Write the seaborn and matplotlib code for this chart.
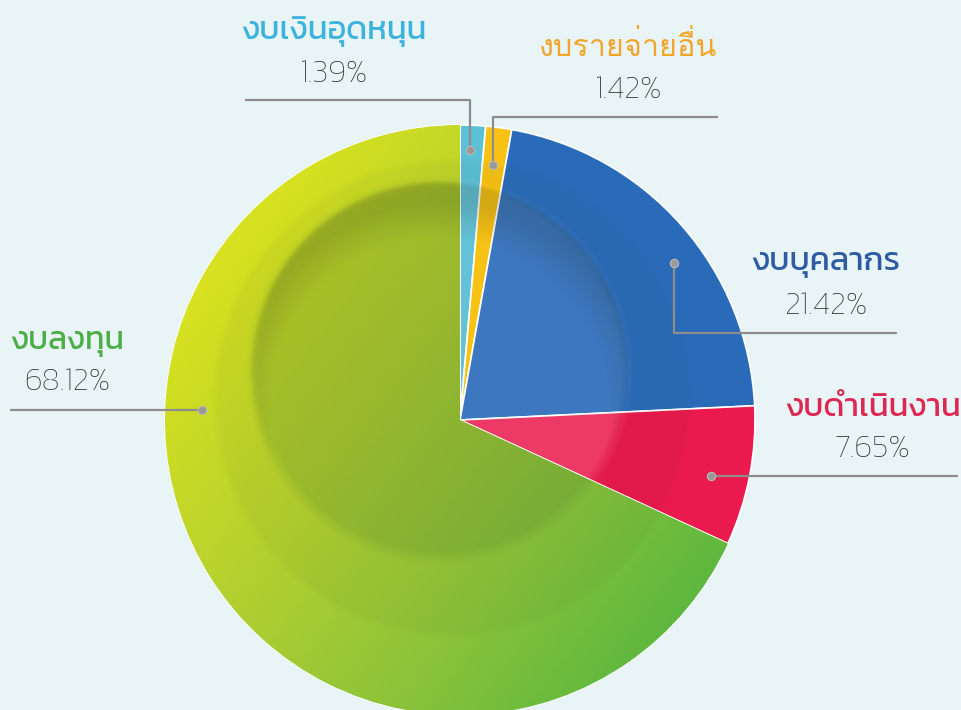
import numpy as np
import matplotlib
matplotlib.use("Agg")
import matplotlib.pyplot as plt
from matplotlib.colors import LinearSegmentedColormap
from matplotlib.patches import Circle
import seaborn as sns

# data (clockwise from 12 o'clock)
labels = ['งบเงินอุดหนุน', 'งบรายจ่ายอื่น', 'งบบุคลากร', 'งบดำเนินงาน', 'งบลงทุน']
shares = [1.39, 1.42, 21.42, 7.65, 68.12]
wedge_colors = ['#5cc0d6', '#f7c214', '#2a6bb9', '#ea1a4e', '#a6cc34']
label_colors = ['#3cb3dc', '#f1a52a', '#2e5ba3', '#dc2852', '#4dae47']
# tint of the inner "plate" per slice (rgb, alpha)
inner_tint = [((1, 1, 1), 0.05), ((1, 1, 1), 0.0), ((1, 1, 1), 0.09),
              ((1, 1, 1), 0.14), ((0.28, 0.44, 0.18), 0.25)]

sns.set_theme(style='white')
plt.rcParams['font.family'] = ['Kanit', 'Loma', 'DejaVu Sans']

BG = '#e8f4f6'
W, H = 962, 710
fig = plt.figure(figsize=(W / 100, H / 100), dpi=100, facecolor=BG)
ax = fig.add_axes([0, 0, 1, 1])
ax.set_facecolor(BG)

cx, cy, R = 460, H - 420, 295
wedges, _ = ax.pie(shares, colors=wedge_colors, startangle=90, counterclock=False,
                   center=(cx, cy), radius=R,
                   wedgeprops=dict(edgecolor='white', linewidth=1.2))
ax.set_xlim(0, W)
ax.set_ylim(0, H)
ax.set_aspect('equal')
ax.axis('off')
for w in wedges:
    w.set_zorder(1)

n = 600
gx, gy = np.meshgrid(np.linspace(cx - R, cx + R, n), np.linspace(cy - R, cy + R, n))
ux, uy = (gx - cx) / R, (gy - cy) / R
ext = [cx - R, cx + R, cy - R, cy + R]

# colour gradient of the big green slice
green_map = LinearSegmentedColormap.from_list('g', ['#d8e21f', '#b6d12e', '#8cc33a', '#56b63f'])
t = np.clip((ux * 0.8 - uy * 0.6 + 1.0) / 2.1, 0, 1)
im = ax.imshow(t, extent=ext, origin='lower', cmap=green_map, vmin=0, vmax=1,
               interpolation='bilinear', zorder=2)
im.set_clip_path(wedges[4])


def smooth(d, w):
    return np.clip(0.5 + d / w, 0, 1)


# plate-like shading: inner disc, shadow crescent at its upper rim, faint middle step
ix, iy, ir = 440, H - 370, 188
d_in = ir - np.hypot(gx - ix, gy - iy)
d_low = ir - np.hypot(gx - ix, gy - (iy - 38))
inner = smooth(d_in, 14)
cres = smooth(d_in, 5) * (1 - smooth(d_low, 36))
mx, my, mr = 452, H - 398, 238
mid = smooth(mr - np.hypot(gx - mx, gy - my), 8) * (1 - inner)

for w, (rgb, a) in zip(wedges, inner_tint):
    if a == 0:
        continue
    tint = np.zeros((n, n, 4))
    tint[..., :3] = rgb
    tint[..., 3] = a * inner
    im = ax.imshow(tint, extent=ext, origin='lower', interpolation='bilinear', zorder=3)
    im.set_clip_path(w)

shade = np.zeros((n, n, 4))
shade[..., :3] = (0.12, 0.16, 0.08)
shade[..., 3] = 0.16 * cres + 0.04 * mid
im = ax.imshow(shade, extent=ext, origin='lower', interpolation='bilinear', zorder=3)
im.set_clip_path(Circle((cx, cy), R, transform=ax.transData))

# labels and leader lines (pixel positions from the top-left corner)
title_pos = [(334, 32), (628, 47), (826, 264), (873, 409), (67, 343)]
pct_pos = [(333, 74), (628, 90), (826, 307), (872, 450), (67, 383)]
title_font = [['Kanit'], ['Loma'], ['Kanit'], ['Kanit'], ['Kanit']]
title_size = [23.5, 22, 23.5, 23.5, 23]
leaders = [
    [(245, 100), (470, 100), (470, 150)],
    [(718, 117), (493, 117), (493, 165)],
    [(897, 333), (674, 333), (674, 263)],
    [(958, 476), (711, 476)],
    [(10, 410), (202, 410)],
]

for i in range(len(labels)):
    tx, ty = title_pos[i]
    px, py = pct_pos[i]
    ax.text(tx, H - ty, labels[i], color=label_colors[i], fontsize=title_size[i],
            family=title_font[i] + ['DejaVu Sans'], ha='center', va='center', zorder=5)
    ax.text(px, H - py, f'{shares[i]:.2f}%', color='#333333', fontsize=23,
            fontweight='light', ha='center', va='center', zorder=5)
    xs = [p[0] for p in leaders[i]]
    ys = [H - p[1] for p in leaders[i]]
    ax.plot(xs, ys, color='#8f8c8c', lw=1.6, solid_capstyle='butt', zorder=4)
    ax.plot(xs[-1], ys[-1], 'o', color='#9a9797', ms=6, mec='#bdbaba', mew=0.8, zorder=4)

fig.savefig('out.png', dpi=100, facecolor=BG)
